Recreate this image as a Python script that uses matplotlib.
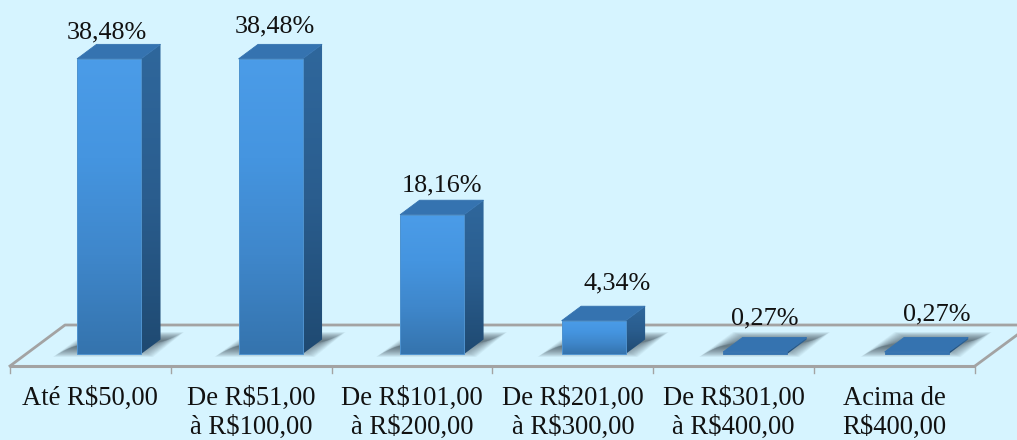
import numpy as np
import matplotlib
matplotlib.use('Agg')
import matplotlib.pyplot as plt
from matplotlib.patches import Polygon
from matplotlib.colors import LinearSegmentedColormap

categories = ['Até R$50,00', 'De R$51,00\nà R$100,00', 'De R$101,00\nà R$200,00',
              'De R$201,00\nà R$300,00', 'De R$301,00\nà R$400,00', 'Acima de\nR$400,00']
values = [38.48, 38.48, 18.16, 4.34, 0.27, 0.27]
value_labels = ['38,48%', '38,48%', '18,16%', '4,34%', '0,27%', '0,27%']

# label nudges in px, chart puts them by hand
label_dx = [-2, 6, 12, 26, 13, 24]
label_dy = [6, 12, 9, 17, 13, 17]

plt.rcParams['font.family'] = ['Liberation Serif', 'DejaVu Serif']

bg = '#d6f4ff'
W, H = 1017, 440
fig = plt.figure(figsize=(W / 100, H / 100), dpi=100, facecolor=bg)
ax = fig.add_axes([0, 0, 1, 1])
ax.set_facecolor(bg)
ax.axis('off')

# scale: one category = 160.83 px, one percent = 7.67 px
cw = 160.83
pu = 7.67
xlim = (-0.5 - 10 / cw, -0.5 + (W - 10) / cw)
ylim = (-(H - 354) / pu, 354 / pu)

dx = lambda p: p / cw
dy = lambda p: p / pu

bar_w = dx(64)
bar_off = dx(18)
bar_shift = dx(0.7)  # bars drift a little against the ticks
depth_x = dx(19.5)
depth_y = dy(14.5)
floor_y = dy(-12)
back_y = dy(29)
line_col = '#a3a3a3'

front_cm = LinearSegmentedColormap.from_list('f', ['#4b9ce8', '#4595e0', '#3f87cb', '#3574ae'])
side_cm = LinearSegmentedColormap.from_list('s', ['#2f679c', '#2a5d8e', '#1f4a72'])
top_col = '#3573b0'


def grad(poly, cmap, zorder):
    xs = [p[0] for p in poly]
    ys = [p[1] for p in poly]
    g = np.linspace(0, 1, 64).reshape(-1, 1)
    im = ax.imshow(g, cmap=cmap, aspect='auto', zorder=zorder, vmin=0, vmax=1,
                   interpolation='bilinear',
                   extent=(min(xs), max(xs), min(ys), max(ys)), origin='upper')
    im.set_clip_path(Polygon(poly, transform=ax.transData))


# floor
left = -0.5
right = 5.5
ax.plot([left, right], [floor_y, floor_y], color=line_col, lw=2.2, zorder=1, solid_capstyle='butt')
ax.plot([left, left + dx(55), xlim[1]], [floor_y, back_y, back_y], color=line_col, lw=2.0, zorder=1)
ax.plot([right, xlim[1]], [floor_y, floor_y + dy(31)], color=line_col, lw=2.0, zorder=1)
for t in np.arange(0, 7) - 0.5:
    ax.plot([t, t], [floor_y, floor_y - dy(7)], color=line_col, lw=1.0, zorder=1)

for i, (v, txt) in enumerate(zip(values, value_labels)):
    x0 = i + bar_off - bar_w / 2 + dx(0.6) + i * bar_shift
    x1 = x0 + bar_w

    # soft shadow on the floor, stacked polygons
    for k in range(20):
        s = k * 0.9
        ax.add_patch(Polygon([(x0 - dx(24 - s), dy(-3 + s * 0.6)),
                              (x1 + dx(12 - s), dy(-3 + s * 0.6)),
                              (x1 + dx(43 - s), dy(22 - s * 0.5)),
                              (x0 + dx(10 + s), dy(22 - s * 0.5))],
                             fc='#34454f', ec='none', alpha=0.05, zorder=2))

    grad([(x1, 0), (x1 + depth_x, depth_y), (x1 + depth_x, v + depth_y), (x1, v)], side_cm, 3)
    ax.add_patch(Polygon([(x0, v), (x1, v), (x1 + depth_x, v + depth_y), (x0 + depth_x, v + depth_y)],
                         fc=top_col, ec=top_col, lw=0.6, zorder=4))
    if v < 1:
        # flat bars show only the top face
        ax.add_patch(Polygon([(x0, 0), (x1, 0), (x1, v), (x0, v)], fc=top_col, ec=top_col, lw=0.6, zorder=5))
    else:
        grad([(x0, 0), (x1, 0), (x1, v), (x0, v)], front_cm, 5)
        ax.add_patch(Polygon([(x0, 0), (x1, 0), (x1, v), (x0, v)], fc='none', ec='#4f93cf', lw=0.7, zorder=6))

    ax.annotate(txt, xy=(i, v + depth_y), xytext=((bar_off * cw + label_dx[i]) * 0.72, label_dy[i] * 0.72),
                textcoords='offset points', ha='center', va='baseline', fontsize=18.8,
                color='#111111', zorder=7)

for i, c in enumerate(categories):
    for j, line in enumerate(c.split('\n')):
        ax.text(i, dy(-50.5 - j * 29), line, ha='center', va='baseline', fontsize=19.2,
                color='#111111', zorder=7)

ax.set_xlim(*xlim)
ax.set_ylim(*ylim)
fig.savefig('out.png', dpi=100, facecolor=bg)
